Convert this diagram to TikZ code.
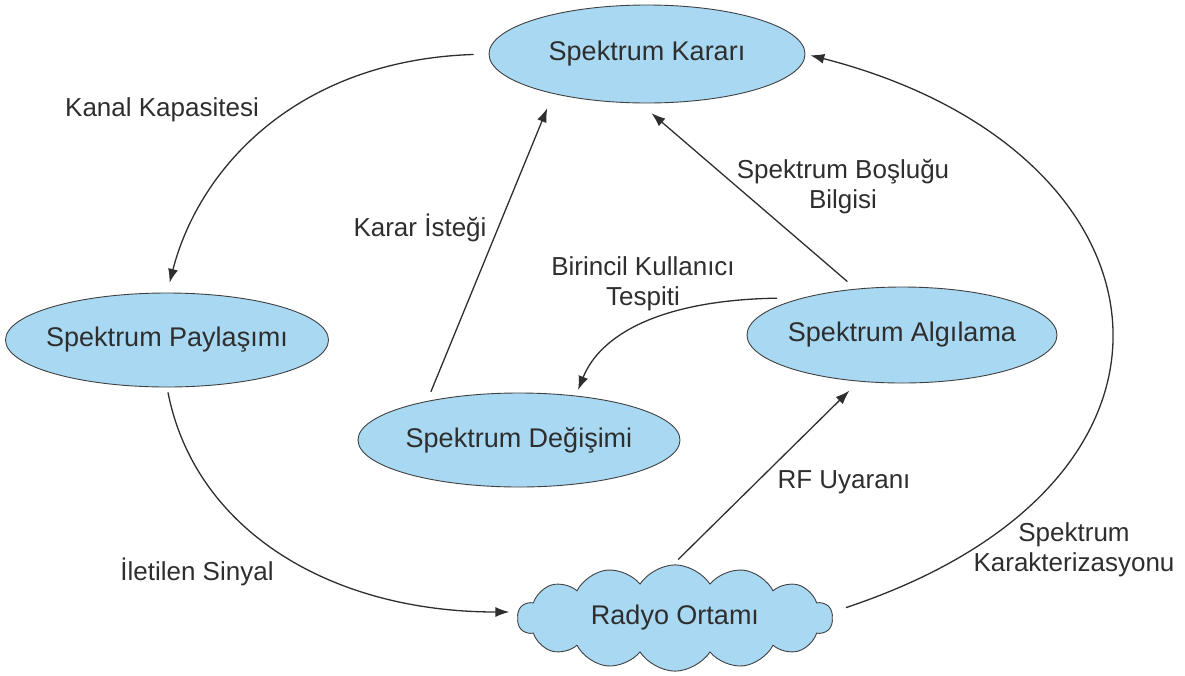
\documentclass[tikz,border=0pt]{standalone}
\usepackage{fontspec}
\setmainfont{Liberation Sans}
\usetikzlibrary{shapes.geometric,shapes.symbols,arrows.meta}
\definecolor{boxfill}{HTML}{A8D8F2}
\definecolor{boxline}{HTML}{404040}
\definecolor{ink}{HTML}{2E2E2E}
% zero-width text so that the ellipse keeps its given size
\newcommand\flattext[1]{\makebox[0pt]{#1}}
\begin{document}
\begin{tikzpicture}[x=1pt,y=-1pt,
  stage/.style={ellipse,draw=boxline,line width=0.9pt,fill=boxfill,text=ink,
    inner sep=0pt,font=\fontsize{27}{30}\selectfont},
  medium/.style={cloud,cloud puffs=14,cloud puff arc=115,aspect=3,draw=boxline,
    line width=0.9pt,fill=boxfill,text=ink,inner sep=0pt,
    font=\fontsize{27}{30}\selectfont},
  tag/.style={text=ink,align=center,inner sep=0pt,font=\fontsize{26}{30}\selectfont},
  flow/.style={draw=ink,line width=1.3pt,-{Latex[length=14pt,width=10pt]}}]
\useasboundingbox (0,0) rectangle (1185,675);

% stages of the cycle
\node[stage,minimum width=316pt,minimum height=98pt] (karar) at (647,54) {\flattext{Spektrum Kararı}};
\node[stage,minimum width=323pt,minimum height=94pt] (paylasim) at (167,340) {\flattext{Spektrum Paylaşımı}};
\node[stage,minimum width=310pt,minimum height=96pt] (algilama) at (902,335) {\flattext{Spektrum Algılama}};
\node[stage,minimum width=322pt,minimum height=94pt] (degisim) at (519,440) {\flattext{Spektrum Değişimi}};
\node[medium,minimum width=315pt,minimum height=106pt] (ortam) at (675,618) {Radyo Ortamı};

% connectors
\draw[flow,shorten <=15pt,shorten >=10pt] (karar.west) .. controls (300,60) and (200,165) .. (paylasim.north);
\draw[flow,shorten <=5pt,shorten >=8pt] (paylasim.south) .. controls (195,530) and (330,612) .. ([yshift=6pt]ortam.west);
\draw[flow,shorten <=10pt,shorten >=15.5pt] (degisim.157.9) -- (karar.203.1);
\draw[flow,shorten <=11pt,shorten >=15pt] (algilama.135) -- (karar.262.3);
\draw[flow,shorten >=6pt] ([yshift=8pt]algilama.167.2) .. controls (660,300) and (600,335) .. (degisim.38.2);
\draw[flow,shorten <=7pt,shorten >=13pt] (ortam.92) -- (algilama.227.2);
\draw[flow,shorten <=14pt,shorten >=5pt] ([yshift=6pt]ortam.east) .. controls (1230,480) and (1180,150) .. (karar.east);

% connector labels
\node[tag] (lkanal) at (162,110) {Kanal Kapasitesi};
\node[tag] (listek) at (420,228) {Karar İsteği};
\node[tag] (lbosluk) at (843,187) {Spektrum Boşluğu\\Bilgisi};
\node[tag] (lbirincil) at (643,284) {Birincil Kullanıcı\\Tespiti};
\node[tag] (lrf) at (844,482) {RF Uyaranı};
\node[tag] (lsinyal) at (197,572) {İletilen Sinyal};
\node[tag] (lkarakter) at (1074,550) {Spektrum\\Karakterizasyonu};
\end{tikzpicture}
\end{document}
